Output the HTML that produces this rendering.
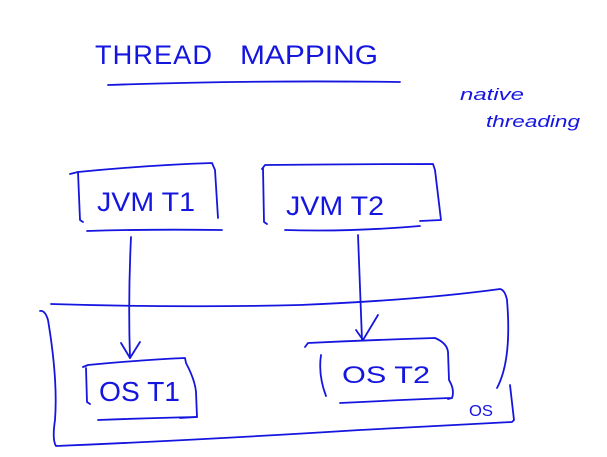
<!DOCTYPE html>
<html><head><style>
html,body{margin:0;padding:0;background:#fff;}
svg{display:block}
text{font-family:"Liberation Sans",sans-serif;fill:#1515e0;}
</style></head><body>
<svg width="607" height="457" viewBox="0 0 607 457" xmlns="http://www.w3.org/2000/svg">
<g fill="none" stroke="#1515e0" stroke-width="1.8" stroke-linecap="round" stroke-linejoin="round">
<!-- title underline -->
<path d="M108 85 Q250 80 400 82"/>
<!-- JVM T1 box -->
<path d="M70 174 L78 172 Q150 165 212 163 L215 170 L218 218"/>
<path d="M78 172 L80 220 L83 222"/>
<path d="M87 231 Q150 229 222 230"/>
<!-- JVM T2 box -->
<path d="M263 168 L264 222 L267 224"/>
<path d="M262 169 L265 165 Q350 164 433 164 L435 170 L441 220 L420 221"/>
<path d="M285 230 Q350 232 420 226"/>
<!-- arrows -->
<path d="M131 237 Q128 300 130 358"/>
<path d="M121 343 L130 358 L140 342"/>
<path d="M358 235 L362 340"/>
<path d="M356 330 L363 340 L378 315"/>
<!-- OS box -->
<path d="M51 304 Q180 308 300 305 Q420 300 500 289 Q505 290 507 300 Q512 360 497 388"/>
<path d="M40 311 Q45 310 48 320 Q58 380 55 420 Q52 440 56 446 Q200 440 360 430 L512 422 L514 420 L510 385"/>
<!-- OS T1 -->
<path d="M83 367 L88 365 Q140 360 185 358 L186 363 Q195 380 196 392 L197 417 L180 418"/>
<path d="M86 368 L87 402 L90 404"/>
<path d="M98 420 Q150 418 197 417"/>
<!-- OS T2 -->
<path d="M305 347 L308 343 Q370 340 435 338 Q447 343 448 352 L449 380 Q455 390 452 398 L448 399"/>
<path d="M321 355 Q318 375 326 396"/>
<path d="M340 403 Q400 400 450 398"/>
</g>
<text x="95" y="64" font-size="27" letter-spacing="1" textLength="118" lengthAdjust="spacingAndGlyphs">THREAD</text>
<text x="240" y="64" font-size="27" textLength="138" lengthAdjust="spacingAndGlyphs">MAPPING</text>
<text x="460" y="100" font-size="17" font-style="italic" textLength="64" lengthAdjust="spacingAndGlyphs">native</text>
<text x="486" y="127" font-size="17" font-style="italic" textLength="94" lengthAdjust="spacingAndGlyphs">threading</text>
<text x="97" y="211" font-size="27" textLength="98" lengthAdjust="spacingAndGlyphs">JVM T1</text>
<text x="286" y="215" font-size="27" textLength="98" lengthAdjust="spacingAndGlyphs">JVM T2</text>
<text x="99" y="401" font-size="28" textLength="81" lengthAdjust="spacingAndGlyphs">OS T1</text>
<text x="342" y="383" font-size="24" textLength="88" lengthAdjust="spacingAndGlyphs">OS T2</text>
<text x="469" y="416" font-size="16" textLength="24" lengthAdjust="spacingAndGlyphs">OS</text>
</svg>
</body></html>
